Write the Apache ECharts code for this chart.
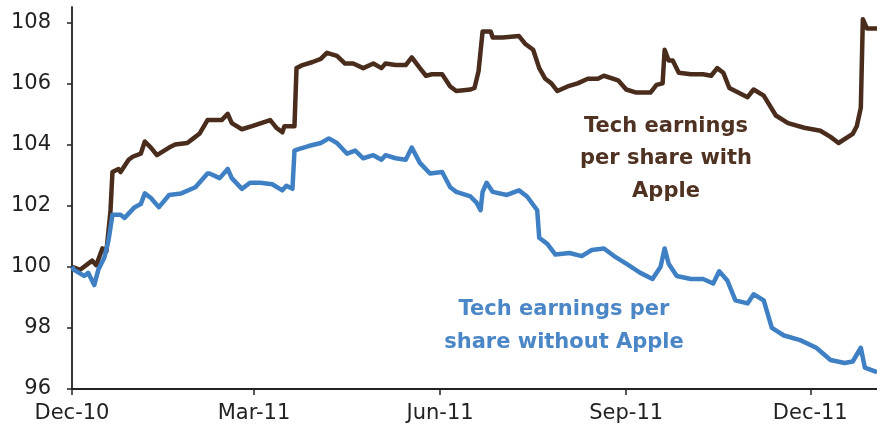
<!DOCTYPE html>
<html>
<head>
<meta charset="utf-8">
<script src="https://cdn.jsdelivr.net/npm/echarts@6/dist/echarts.min.js"></script>
<style>
html,body{margin:0;padding:0;background:#fff;}
#chart{width:877px;height:438px;}
</style>
</head>
<body>
<div id="chart"></div>
<script>
// X-axis tick dates and labels
var tickDates = ['2010-12-01', '2011-03-01', '2011-06-01', '2011-09-01', '2011-12-01'];
var tickLabels = ['Dec-10', 'Mar-11', 'Jun-11', 'Sep-11', 'Dec-11'];
var yTicks = [96, 98, 100, 102, 104, 106, 108];

// Tech earnings per share with Apple
var withAppleDates = ['2010-12-01','2010-12-05','2010-12-11','2010-12-13','2010-12-16','2010-12-18','2010-12-20','2010-12-21','2010-12-24','2010-12-25','2010-12-29','2010-12-31',
'2011-01-04','2011-01-06','2011-01-09','2011-01-12','2011-01-18','2011-01-21','2011-01-27','2011-01-30','2011-02-02','2011-02-06','2011-02-08','2011-02-13','2011-02-16','2011-02-18','2011-02-23','2011-02-28',
'2011-03-09','2011-03-12','2011-03-15','2011-03-16','2011-03-21','2011-03-22','2011-03-25','2011-03-30','2011-04-03','2011-04-06','2011-04-11','2011-04-15','2011-04-19','2011-04-24','2011-04-29',
'2011-05-03','2011-05-05','2011-05-10','2011-05-15','2011-05-18','2011-05-22','2011-05-25','2011-05-28','2011-06-02','2011-06-06','2011-06-09','2011-06-16','2011-06-18','2011-06-20','2011-06-22','2011-06-26','2011-06-27',
'2011-07-02','2011-07-10','2011-07-13','2011-07-17','2011-07-20','2011-07-23','2011-07-26','2011-07-29','2011-08-03','2011-08-08','2011-08-13','2011-08-18','2011-08-21','2011-08-28',
'2011-09-01','2011-09-06','2011-09-13','2011-09-16','2011-09-19','2011-09-20','2011-09-22','2011-09-24','2011-09-27','2011-10-03','2011-10-09','2011-10-13','2011-10-16','2011-10-19','2011-10-22','2011-10-31',
'2011-11-03','2011-11-08','2011-11-14','2011-11-20','2011-11-28','2011-12-06','2011-12-11','2011-12-15','2011-12-22','2011-12-24','2011-12-26','2011-12-27','2011-12-29','2012-01-03'];
var withAppleValues = [100.0,99.9,100.2,100.05,100.6,100.5,101.8,103.1,103.2,103.1,103.5,103.6,
103.7,104.1,103.9,103.65,103.9,104.0,104.05,104.2,104.35,104.8,104.8,104.8,105.0,104.7,104.5,104.6,
104.8,104.55,104.4,104.6,104.6,106.5,106.6,106.7,106.8,107.0,106.9,106.65,106.65,106.5,106.65,
106.5,106.65,106.6,106.6,106.85,106.5,106.25,106.3,106.3,105.9,105.75,105.8,105.85,106.4,107.7,107.7,107.5,
107.5,107.55,107.3,107.1,106.5,106.15,106.0,105.75,105.9,106.0,106.15,106.15,106.25,106.1,
105.8,105.7,105.7,105.95,106.0,107.1,106.75,106.75,106.35,106.3,106.3,106.25,106.5,106.35,105.85,105.55,
105.8,105.6,104.95,104.7,104.55,104.45,104.25,104.05,104.35,104.6,105.2,108.1,107.8,107.8];

// Tech earnings per share without Apple
var withoutAppleDates = ['2010-12-01','2010-12-02','2010-12-07','2010-12-09','2010-12-12','2010-12-14','2010-12-17','2010-12-19','2010-12-21','2010-12-25','2010-12-27',
'2011-01-01','2011-01-04','2011-01-06','2011-01-09','2011-01-13','2011-01-18','2011-01-24','2011-01-31','2011-02-06','2011-02-07','2011-02-12','2011-02-16','2011-02-18','2011-02-23','2011-02-27',
'2011-03-04','2011-03-10','2011-03-15','2011-03-17','2011-03-20','2011-03-21','2011-03-23','2011-03-28','2011-04-03','2011-04-07','2011-04-11','2011-04-16','2011-04-20','2011-04-24','2011-04-29',
'2011-05-03','2011-05-05','2011-05-10','2011-05-15','2011-05-18','2011-05-22','2011-05-27','2011-06-02','2011-06-06','2011-06-09','2011-06-16','2011-06-19','2011-06-21','2011-06-22','2011-06-24','2011-06-27',
'2011-07-04','2011-07-10','2011-07-14','2011-07-19','2011-07-20','2011-07-24','2011-07-28','2011-08-04','2011-08-10','2011-08-15','2011-08-21','2011-08-26',
'2011-09-01','2011-09-08','2011-09-14','2011-09-18','2011-09-20','2011-09-22','2011-09-26','2011-10-03','2011-10-09','2011-10-14','2011-10-17','2011-10-21','2011-10-25','2011-10-31',
'2011-11-03','2011-11-08','2011-11-12','2011-11-18','2011-11-26','2011-12-04','2011-12-11','2011-12-18','2011-12-22','2011-12-26','2011-12-28','2012-01-03'];
var withoutAppleValues = [100.0,99.9,99.7,99.8,99.4,99.9,100.3,100.85,101.7,101.7,101.6,
101.95,102.05,102.4,102.25,101.95,102.35,102.4,102.6,103.05,103.05,102.9,103.2,102.9,102.55,102.75,
102.75,102.7,102.5,102.65,102.55,103.8,103.85,103.95,104.05,104.2,104.05,103.7,103.8,103.55,103.65,
103.5,103.65,103.55,103.5,103.9,103.4,103.05,103.1,102.6,102.45,102.3,102.1,101.85,102.45,102.75,102.45,
102.35,102.5,102.3,101.85,100.95,100.75,100.4,100.45,100.35,100.55,100.6,100.35,
100.1,99.8,99.6,100.0,100.6,100.1,99.7,99.6,99.6,99.45,99.85,99.55,98.9,98.8,
99.1,98.9,98.0,97.75,97.6,97.35,96.95,96.85,96.9,97.35,96.7,96.55];

var brown = '#4a2c1d';
var blue = '#3f80c4';
var font = 'DejaVu Sans';

function toTime(d) { return Date.UTC(+d.slice(0, 4), +d.slice(5, 7) - 1, +d.slice(8, 10)); }
function zip(d, v) { return d.map(function (x, i) { return [toTime(x), v[i]]; }); }
var tickTimes = tickDates.map(toTime);

var chart = echarts.init(document.getElementById('chart'), null, {renderer: 'canvas'});
chart.setOption({
  animation: false,
  backgroundColor: '#ffffff',
  grid: {left: 72, right: 0, top: 7, bottom: 49, containLabel: false},
  xAxis: {
    type: 'value',
    min: toTime('2010-12-01'),
    max: toTime('2012-01-03'),
    splitLine: {show: false},
    axisLine: {show: true, lineStyle: {color: '#222222', width: 1.8}},
    axisTick: {show: true, inside: false, length: 6, lineStyle: {color: '#222222', width: 1.5}, customValues: tickTimes},
    axisLabel: {
      customValues: tickTimes,
      margin: 14, color: '#222222', fontSize: 21, fontFamily: font,
      formatter: function (val) {
        var best = '', bd = Infinity;
        tickTimes.forEach(function (t, i) { var dd = Math.abs(t - val); if (dd < bd) { bd = dd; best = tickLabels[i]; } });
        return best;
      }
    }
  },
  yAxis: {
    type: 'value',
    min: 96, max: 108.5,
    splitLine: {show: false},
    axisLine: {show: true, lineStyle: {color: '#222222', width: 1.8}},
    axisTick: {show: true, inside: false, length: 5, lineStyle: {color: '#222222', width: 1.5}, customValues: yTicks},
    axisLabel: {customValues: yTicks, margin: 21, color: '#222222', fontSize: 21, fontFamily: font}
  },
  series: [
    {
      name: 'Tech earnings per share with Apple',
      type: 'line', showSymbol: false, symbol: 'none',
      data: zip(withAppleDates, withAppleValues),
      lineStyle: {color: brown, width: 4.5, join: 'round'},
      z: 2
    },
    {
      name: 'Tech earnings per share without Apple',
      type: 'line', showSymbol: false, symbol: 'none',
      data: zip(withoutAppleDates, withoutAppleValues),
      lineStyle: {color: blue, width: 4.5, join: 'round'},
      z: 3
    }
  ],
  graphic: [
    {type: 'text', x: 666, y: 110, style: {text: 'Tech earnings\nper share with\nApple', fill: '#4f3222', font: 'bold 21px "DejaVu Sans"', align: 'center', verticalAlign: 'top', lineHeight: 32.5}},
    {type: 'text', x: 564, y: 293, style: {text: 'Tech earnings per\nshare without Apple', fill: '#4b86c6', font: 'bold 21px "DejaVu Sans"', align: 'center', verticalAlign: 'top', lineHeight: 33}}
  ]
});
</script>
</body>
</html>
